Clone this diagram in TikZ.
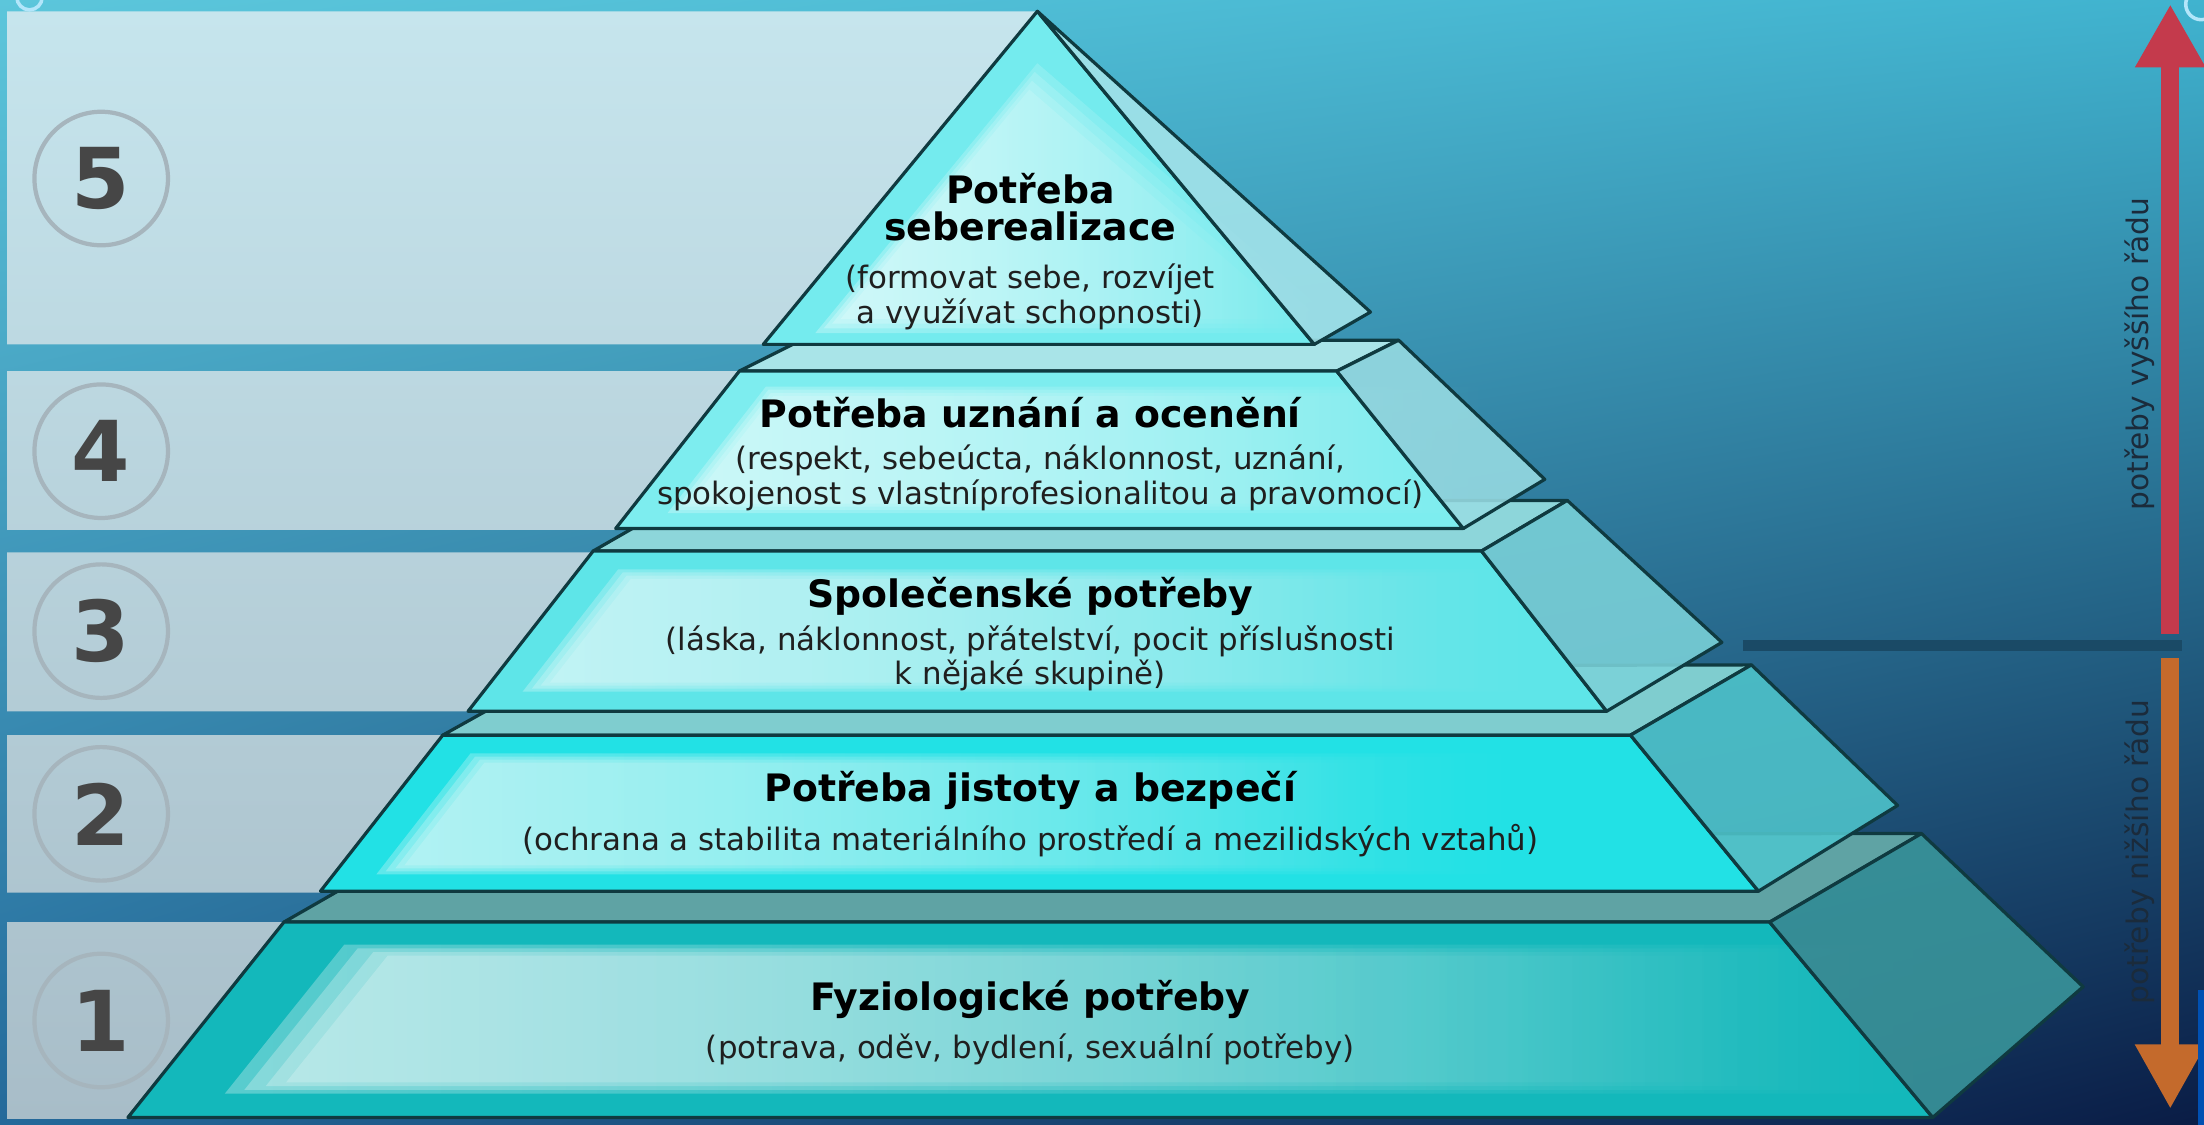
\documentclass[tikz,border=0pt]{standalone}
\usepackage{fontspec}
\setmainfont{DejaVu Sans}
\usetikzlibrary{arrows.meta, fadings, shadings}

\definecolor{bgtl}{HTML}{5CC6DB}
\definecolor{bgtr}{HTML}{40B3CF}
\definecolor{bgbl}{HTML}{24699A}
\definecolor{bgbr}{HTML}{0A1C45}
\definecolor{bandtop}{HTML}{C6E5ED}
\definecolor{bandbot}{HTML}{A8BDC8}
\definecolor{ringgrey}{HTML}{A6B5BD}
\definecolor{numgrey}{HTML}{464646}
\definecolor{edge}{HTML}{0F3A40}
\definecolor{front1}{HTML}{13B8BB}
\definecolor{front2}{HTML}{22E1E5}
\definecolor{front3}{HTML}{5EE5E8}
\definecolor{front4}{HTML}{7DEDEF}
\definecolor{front5}{HTML}{74EBEE}
\definecolor{glow1}{HTML}{DDF3F3}
\definecolor{glow2}{HTML}{D2F7F7}
\definecolor{glow3}{HTML}{D8F7F8}
\definecolor{glow4}{HTML}{DDFBFB}
\definecolor{glow5}{HTML}{E4FCFC}
\definecolor{side1}{HTML}{3A979C}
\definecolor{side2}{HTML}{4FC5CC}
\definecolor{side3}{HTML}{7BD2D9}
\definecolor{side4}{HTML}{98DCE3}
\definecolor{side5}{HTML}{A5E5EB}
\definecolor{top1}{HTML}{5FA3A4}
\definecolor{top2}{HTML}{7FCDCF}
\definecolor{top3}{HTML}{8DD6DA}
\definecolor{top4}{HTML}{A9E4E8}
\definecolor{higher}{HTML}{C43A4C}
\definecolor{lower}{HTML}{C46A2C}
\definecolor{sepc}{HTML}{1A4A66}
\definecolor{labelc}{HTML}{1B2B3B}

\tikzfading[name=glowfade, left color=transparent!0, middle color=transparent!20, right color=transparent!100]

\tikzset{
    face/.style={draw=edge, line width=1.3pt, line join=round},
    sideface/.style={face, fill opacity=.88},
    glow/.style={fill opacity=.35, path fading=glowfade},
    ring/.style={circle, draw=ringgrey, line width=.6mm, minimum size=19mm, text=numgrey, font=\bfseries\fontsize{34}{34}\selectfont},
    title/.style={anchor=base, text=black, font=\bfseries\fontsize{15.3}{18}\selectfont},
    subtext/.style={anchor=base, text=black!88, font=\fontsize{12.5}{15}\selectfont},
    vlabel/.style={rotate=90, text=labelc, font=\fontsize{12}{14}\selectfont},
    uparrow/.style={draw=higher, line width=2.6mm, -{Triangle[length=9mm, width=9.4mm]}},
    downarrow/.style={draw=lower, line width=2.6mm, -{Triangle[length=9.2mm, width=9.4mm]}},
    sepline/.style={draw=sepc, line width=1.6mm}
}

\begin{document}
\begin{tikzpicture}[x=0.2mm, y=-0.2mm]
    \useasboundingbox (0,0) rectangle (1568,800);
    \shade[upper left=bgtl, upper right=bgtr, lower left=bgbl, lower right=bgbr] (0,0) rectangle (1568,800);

    % left bands
    \begin{scope}
        \clip (5,8) rectangle (740,245) (5,264) rectangle (740,377) (5,393) rectangle (740,506)
              (5,523) rectangle (740,635) (5,656) rectangle (740,796);
        \shade[top color=bandtop, bottom color=bandbot] (5,8) rectangle (740,796);
    \end{scope}
    \node[ring] (n5) at (72,127) {5};
    \node[ring] (n4) at (72,321) {4};
    \node[ring] (n3) at (72,449) {3};
    \node[ring] (n2) at (72,579) {2};
    \node[ring] (n1) at (72,726) {1};

    % level 1
    \filldraw[face, fill=top1] (202,656) -- (310,594) -- (1367,593) -- (1259,656) -- cycle;
    \filldraw[face, fill=front1] (91,795) -- (202,656) -- (1259,656) -- (1375,795) -- cycle;
    \foreach \s in {1,.95,.9,.85}
        \fill[glow, fill=glow1, scale around={\s:(450,725)}] (160,778) -- (245,672) -- (1380,672) -- (1380,778) -- cycle;
    \filldraw[sideface, fill=side1] (1259,656) -- (1367,593) -- (1482,702) -- (1375,795) -- cycle;

    % level 2
    \filldraw[face, fill=top2] (315,523) -- (401,475) -- (1246,473) -- (1160,523) -- cycle;
    \filldraw[face, fill=front2] (228,634) -- (315,523) -- (1160,523) -- (1251,634) -- cycle;
    \foreach \s in {1,.95,.9,.85}
        \fill[glow, fill=glow2, scale around={\s:(400,580)}] (268,622) -- (335,536) -- (1080,536) -- (1080,622) -- cycle;
    \filldraw[sideface, fill=side2] (1160,523) -- (1246,473) -- (1350,573) -- (1251,634) -- cycle;

    % level 3
    \filldraw[face, fill=top3] (422,392) -- (483,357) -- (1115,356) -- (1054,392) -- cycle;
    \filldraw[face, fill=front3] (333,506) -- (422,392) -- (1054,392) -- (1143,506) -- cycle;
    \foreach \s in {1,.95,.9,.85}
        \fill[glow, fill=glow3, scale around={\s:(500,450)}] (372,492) -- (440,405) -- (1100,405) -- (1100,492) -- cycle;
    \filldraw[sideface, fill=side3] (1054,392) -- (1115,356) -- (1225,457) -- (1143,506) -- cycle;

    % level 4
    \filldraw[face, fill=top4] (526,264) -- (570,242) -- (995,242) -- (951,264) -- cycle;
    \filldraw[face, fill=front4] (438,376) -- (526,264) -- (951,264) -- (1041,376) -- cycle;
    \foreach \s in {1,.95,.9,.85}
        \fill[glow, fill=glow4, scale around={\s:(580,320)}] (475,365) -- (545,275) -- (1060,275) -- (1060,365) -- cycle;
    \filldraw[sideface, fill=side4] (951,264) -- (995,242) -- (1099,341) -- (1041,376) -- cycle;

    % level 5
    \filldraw[face, fill=front5] (543,245) -- (738,8) -- (935,245) -- cycle;
    \foreach \s in {1,.95,.9,.85}
        \fill[glow, fill=glow5, scale around={\s:(700,170)}] (580,237) -- (738,45) -- (960,237) -- cycle;
    \filldraw[sideface, fill=side5] (738,8) -- (975,222) -- (935,245) -- cycle;

    % texts
    \node[title] (t5a) at (733,145) {Potřeba};
    \node[title] (t5b) at (733,171) {seberealizace};
    \node[subtext] (s5a) at (733,205) {(formovat sebe, rozvíjet};
    \node[subtext] (s5b) at (733,230) {a využívat schopnosti)};
    \node[title] (t4) at (733,304) {Potřeba uznání a ocenění};
    \node[subtext] (s4a) at (740,334) {(respekt, sebeúcta, náklonnost, uznání,};
    \node[subtext] (s4b) at (740,359) {spokojenost s vlastníprofesionalitou a pravomocí)};
    \node[title] (t3) at (733,432) {Společenské potřeby};
    \node[subtext] (s3a) at (733,463) {(láska, náklonnost, přátelství, pocit příslušnosti};
    \node[subtext] (s3b) at (733,487) {k nějaké skupině)};
    \node[title] (t2) at (733,570) {Potřeba jistoty a bezpečí};
    \node[subtext] (s2) at (733,605) {(ochrana a stabilita materiálního prostředí a mezilidských vztahů)};
    \node[title] (t1) at (733,719) {Fyziologické potřeby};
    \node[subtext] (s1) at (733,753) {(potrava, oděv, bydlení, sexuální potřeby)};

    % right side arrows
    \coordinate (hib) at (1544,451);
    \coordinate (hit) at (1544,3);
    \coordinate (lot) at (1544,468);
    \coordinate (lob) at (1544,789);
    \coordinate (sepl) at (1240,459);
    \coordinate (sepr) at (1552,459);
    \draw[sepline] (sepl) -- (sepr);
    \draw[uparrow] (hib) -- (hit);
    \draw[downarrow] (lot) -- (lob);
    \node[vlabel] (hilab) at (1522,252) {potřeby vyššího řádu};
    \node[vlabel] (lolab) at (1522,606) {potřeby nižšího řádu};

    % corner bits
    \draw[cyan!30, line width=.5mm] (21,-2) circle (9);
    \draw[cyan!30, line width=.5mm] (1566,3) circle (11);
    \fill[blue!55!cyan!70!black] (1564,704) rectangle (1568,800);
\end{tikzpicture}
\end{document}
